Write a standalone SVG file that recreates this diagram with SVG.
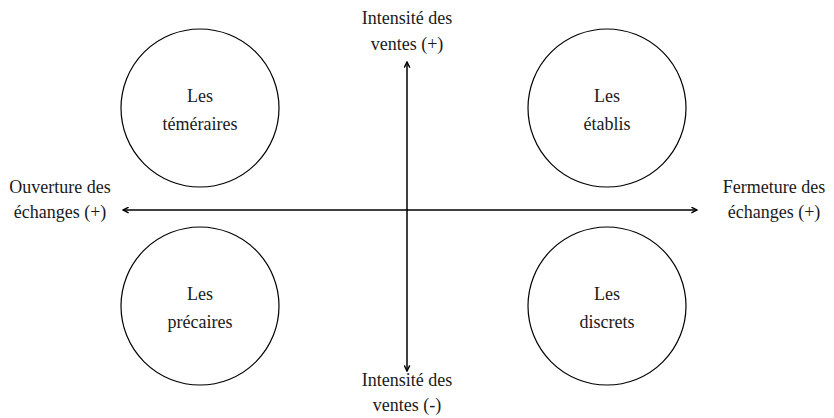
<svg xmlns="http://www.w3.org/2000/svg" width="834" height="418" viewBox="0 0 834 418">
<style>
text{font-family:"Liberation Serif",serif;font-size:18px;fill:#1a1a1a;text-anchor:middle}
.c{fill:#fff;stroke:#000;stroke-width:1.2}
.ax{stroke:#000;stroke-width:1.5;fill:none;marker-start:url(#a);marker-end:url(#a)}
</style>
<defs>
<marker id="a" viewBox="0 0 10 10" refX="9" refY="5" markerWidth="7" markerHeight="7" orient="auto-start-reverse" markerUnits="userSpaceOnUse">
<path d="M1,1 L9,5 L1,9" fill="none" stroke="#000" stroke-width="2"/>
</marker>
</defs>
<g id="connectors">
<line class="ax" x1="407" y1="371" x2="407" y2="62"/>
<line class="ax" x1="123" y1="210" x2="697" y2="210"/>
</g>
<g id="n-temeraires"><circle class="c" cx="200" cy="108" r="79"/><text x="200" y="102">Les</text><text x="200" y="130">téméraires</text></g>
<g id="n-etablis"><circle class="c" cx="607" cy="108" r="79"/><text x="607" y="102">Les</text><text x="607" y="130">établis</text></g>
<g id="n-precaires"><circle class="c" cx="200" cy="306" r="79"/><text x="200" y="300">Les</text><text x="200" y="328">précaires</text></g>
<g id="n-discrets"><circle class="c" cx="607" cy="306" r="79"/><text x="607" y="300">Les</text><text x="607" y="328">discrets</text></g>
<g id="l-top"><text x="407" y="24">Intensité des</text><text x="407" y="50">ventes (+)</text></g>
<g id="l-bottom"><text x="407" y="386">Intensité des</text><text x="407" y="411">ventes (-)</text></g>
<g id="l-left"><text x="60" y="193">Ouverture des</text><text x="60" y="218">échanges (+)</text></g>
<g id="l-right"><text x="774" y="193">Fermeture des</text><text x="774" y="218">échanges (+)</text></g>
</svg>
